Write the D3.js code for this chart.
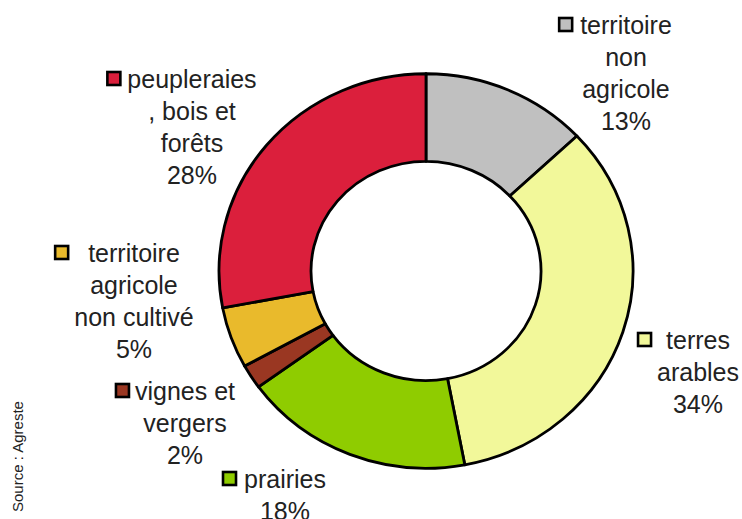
<!DOCTYPE html>
<html>
<head>
<meta charset="utf-8">
<script src="https://cdn.jsdelivr.net/npm/d3@7"></script>
<style>
  html, body { margin: 0; padding: 0; background: #fff; }
  svg text { font-family: "Liberation Sans", Arial, sans-serif; fill: #222; }
</style>
</head>
<body>
<svg id="chart" width="742" height="519"></svg>
<script>
// ##### Data (clockwise from the top)
var categories = ['territoire non agricole', 'terres arables', 'prairies',
  'vignes et vergers', 'territoire agricole non cultivé', 'peupleraies, bois et forêts'];
var labelLines = [
  ['territoire', 'non', 'agricole'],
  ['terres', 'arables'],
  ['prairies'],
  ['vignes et', 'vergers'],
  ['territoire', 'agricole', 'non cultivé'],
  ['peupleraies', ', bois et', 'forêts']
];
var values = [13, 34, 18, 2, 5, 28];
var colors = ['#c0c0c0', '#f2f89a', '#8fcc00', '#9a3722', '#e9ba2c', '#db1f3c'];
var sourceText = 'Source : Agreste';

// ##### Layout of the labels (centre x, first baseline, gap between square and text)
var labelPos = [
  [626, 34, 8],
  [698, 349, 15],
  [285, 488, 8],
  [185, 400, 6],
  [134, 262, 20],
  [192, 88, 7]
];

var svg = d3.select('#chart');
var cx = 426, cy = 271, outerR = 207, innerR = 115, squash = 0.953;

// Donut slightly flattened like the original picture
var pie = d3.pie().sort(null).value(function(d) { return d; });
var arc = d3.arc().innerRadius(innerR).outerRadius(outerR);

var g = svg.append('g')
  .attr('transform', 'translate(' + cx + ',' + cy + ') scale(1,' + squash + ')');

g.selectAll('path')
  .data(pie(values))
  .enter()
  .append('path')
  .attr('d', arc)
  .attr('fill', function(d, i) { return colors[i]; })
  .attr('stroke', '#000')
  .attr('stroke-width', 2.8)
  .attr('stroke-linejoin', 'round')
  .attr('vector-effect', 'non-scaling-stroke');

// ##### Labels
var lineHeight = 32;
var labels = svg.append('g').attr('class', 'labels');

categories.forEach(function(name, i) {
  var pos = labelPos[i];
  var lg = labels.append('g');
  var lines = labelLines[i].concat([values[i] + '%']);
  var texts = lg.selectAll('text')
    .data(lines)
    .enter()
    .append('text')
    .attr('x', pos[0])
    .attr('y', function(d, j) { return pos[1] + j * lineHeight; })
    .attr('text-anchor', 'middle')
    .attr('font-size', 25)
    .text(function(d) { return d; });

  // Legend square left of the first line
  var w = texts.node().getComputedTextLength();
  var right = pos[0] - w / 2 - pos[2];
  lg.append('rect')
    .attr('x', right - 13)
    .attr('y', pos[1] - 16)
    .attr('width', 13)
    .attr('height', 13)
    .attr('fill', colors[i])
    .attr('stroke', '#000')
    .attr('stroke-width', 2.6);
});

// ##### Source, written vertically
svg.append('text')
  .attr('transform', 'translate(23,512) rotate(-90)')
  .attr('font-size', 15)
  .text(sourceText);
</script>
</body>
</html>
